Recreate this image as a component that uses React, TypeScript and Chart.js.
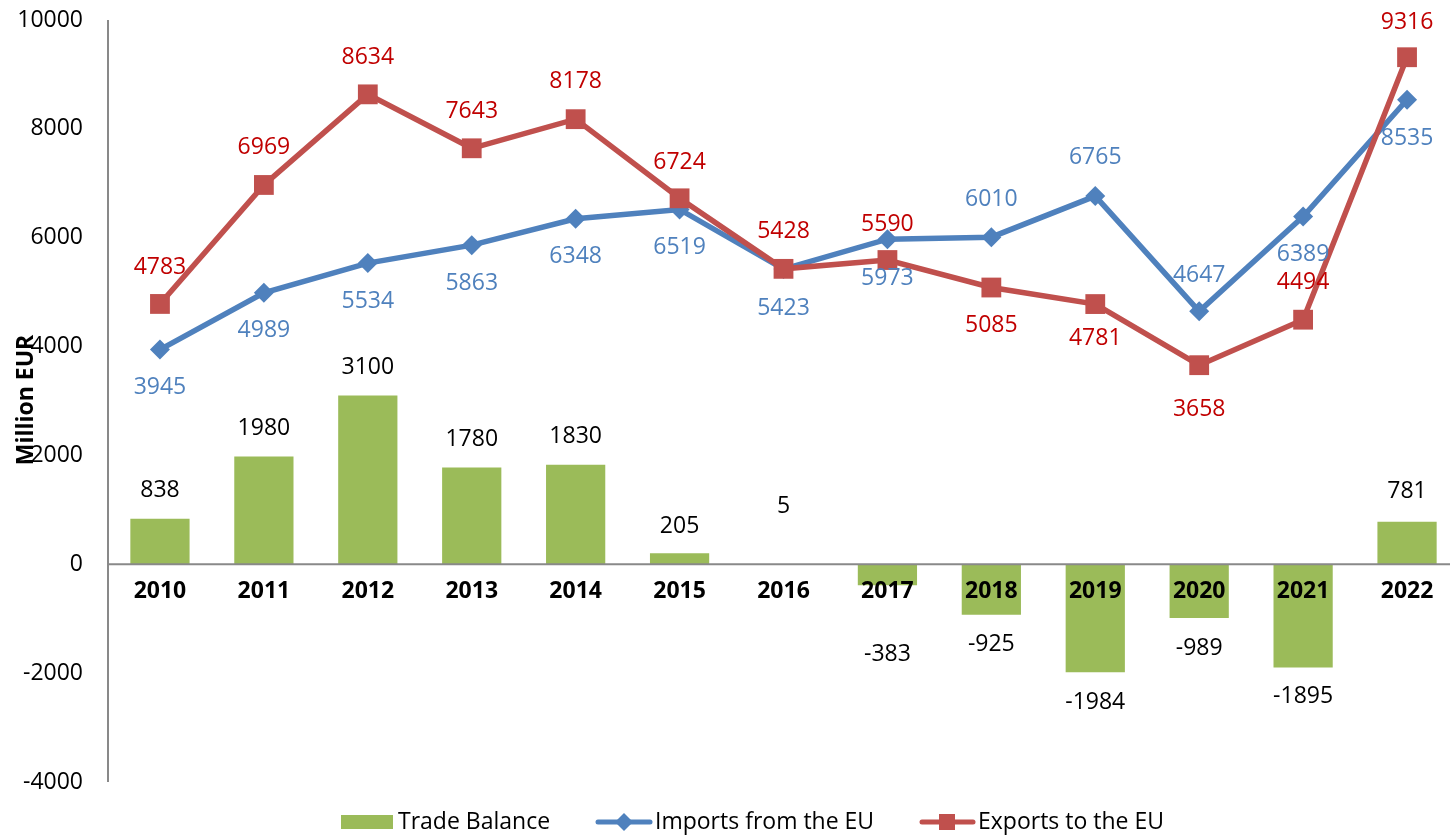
import React, { useEffect, useRef } from "react";
import { Chart, registerables } from "chart.js";

Chart.register(...registerables);

// ---- data ----
const years = ["2010", "2011", "2012", "2013", "2014", "2015", "2016", "2017", "2018", "2019", "2020", "2021", "2022"];
const tradeBalance = [838, 1980, 3100, 1780, 1830, 205, 5, -383, -925, -1984, -989, -1895, 781];
const importsFromEU = [3945, 4989, 5534, 5863, 6348, 6519, 5423, 5973, 6010, 6765, 4647, 6389, 8535];
const exportsToEU = [4783, 6969, 8634, 7643, 8178, 6724, 5428, 5590, 5085, 4781, 3658, 4494, 9316];
const yTicks = [-4000, -2000, 0, 2000, 4000, 6000, 8000, 10000];

// ---- label placement (style, px offsets from the mark) ----
const balanceLabelGap = [28, 28, 28, 28, 28, 27, 58, 69, 30, 30, 30, 29, 30];
const importsLabelDy = [38, 38, 38, 38, 38, 38, 39, 39, -38, -39, -36, 38, 39];
const exportsLabelDy = [-37, -38, -37, -37, -38, -36, -37, -36, 38, 34, 44, -37, -35];

const FONT = '"Open Sans", "Noto Sans", sans-serif';
const GREEN = "#9BBB59";
const BLUE = "#4F81BD";
const RED = "#C0504D";
const AXIS = "#898989";
const CANVAS_W = 1462;
const CANVAS_H = 835;

const overlayPlugin = {
  id: "overlay",
  afterDatasetsDraw(chart: any) {
    const ctx = chart.ctx as CanvasRenderingContext2D;
    const { left, right, top, bottom } = chart.chartArea;
    const xs = chart.scales.x;
    const ys = chart.scales.y;
    const y0 = ys.getPixelForValue(0);
    ctx.save();
    // axes
    ctx.strokeStyle = AXIS;
    ctx.lineWidth = 2;
    ctx.beginPath();
    ctx.moveTo(left, top);
    ctx.lineTo(left, bottom);
    ctx.moveTo(left, y0);
    ctx.lineTo(right, y0);
    ctx.stroke();

    ctx.textAlign = "center";
    ctx.textBaseline = "middle";

    // category labels at zero line
    ctx.font = `bold 23px ${FONT}`;
    ctx.fillStyle = "#000";
    years.forEach((yr, i) => {
      ctx.fillText(yr, xs.getPixelForValue(i), y0 + 27);
    });

    // value labels
    ctx.font = `23px ${FONT}`;
    const barMeta = chart.getDatasetMeta(0);
    tradeBalance.forEach((v, i) => {
      const el = barMeta.data[i];
      const yy = v >= 0 ? el.y - balanceLabelGap[i] : el.y + balanceLabelGap[i];
      ctx.fillStyle = "#000";
      ctx.fillText(String(v), el.x, yy);
    });
    const impMeta = chart.getDatasetMeta(1);
    importsFromEU.forEach((v, i) => {
      const el = impMeta.data[i];
      ctx.fillStyle = BLUE;
      ctx.fillText(String(v), el.x, el.y + importsLabelDy[i]);
    });
    const expMeta = chart.getDatasetMeta(2);
    exportsToEU.forEach((v, i) => {
      const el = expMeta.data[i];
      ctx.fillStyle = "#C00000";
      ctx.fillText(String(v), el.x, el.y + exportsLabelDy[i]);
    });
    ctx.restore();
  },
  afterDraw(chart: any) {
    const ctx = chart.ctx as CanvasRenderingContext2D;
    ctx.save();
    // y axis title
    ctx.translate(26, 400);
    ctx.rotate(-Math.PI / 2);
    ctx.font = `bold 23px ${FONT}`;
    ctx.fillStyle = "#000";
    ctx.textAlign = "center";
    ctx.textBaseline = "middle";
    ctx.fillText("Million EUR", 0, 0);
    ctx.restore();

    // legend
    const ly = 822;
    ctx.save();
    ctx.font = `23px ${FONT}`;
    ctx.textAlign = "left";
    ctx.textBaseline = "middle";
    ctx.fillStyle = GREEN;
    ctx.fillRect(341, ly - 7, 52, 14);
    ctx.fillStyle = "#000";
    ctx.fillText("Trade Balance", 398, ly);

    ctx.strokeStyle = BLUE;
    ctx.lineWidth = 5;
    ctx.lineCap = "round";
    ctx.beginPath();
    ctx.moveTo(598, ly);
    ctx.lineTo(650, ly);
    ctx.stroke();
    ctx.fillStyle = BLUE;
    ctx.beginPath();
    ctx.moveTo(624 - 9, ly);
    ctx.lineTo(624, ly - 9);
    ctx.lineTo(624 + 9, ly);
    ctx.lineTo(624, ly + 9);
    ctx.closePath();
    ctx.fill();
    ctx.fillStyle = "#000";
    ctx.fillText("Imports from the EU", 655, ly);

    ctx.strokeStyle = RED;
    ctx.beginPath();
    ctx.moveTo(922, ly);
    ctx.lineTo(973, ly);
    ctx.stroke();
    ctx.fillStyle = RED;
    ctx.fillRect(947 - 8, ly - 8, 16, 16);
    ctx.fillStyle = "#000";
    ctx.fillText("Exports to the EU", 978, ly);
    ctx.restore();
  },
};

export default function App() {
  const ref = useRef<HTMLCanvasElement | null>(null);
  useEffect(() => {
    document.documentElement.style.overflow = "hidden";
    document.body.style.overflow = "hidden";
    const canvas = ref.current;
    if (!canvas) return;
    const chart = new Chart(canvas, {
      type: "bar",
      data: {
        labels: years,
        datasets: [
          {
            type: "bar",
            label: "Trade Balance",
            data: tradeBalance,
            backgroundColor: GREEN,
            borderWidth: 0,
            categoryPercentage: 1,
            barPercentage: 0.57,
            order: 2,
          } as any,
          {
            type: "line",
            label: "Imports from the EU",
            data: importsFromEU,
            borderColor: BLUE,
            backgroundColor: BLUE,
            borderWidth: 5.5,
            tension: 0,
            pointStyle: "rectRot",
            pointRadius: 10,
            pointBorderWidth: 0,
            pointBackgroundColor: BLUE,
            clip: false,
            order: 1,
          } as any,
          {
            type: "line",
            label: "Exports to the EU",
            data: exportsToEU,
            borderColor: RED,
            backgroundColor: RED,
            borderWidth: 5.5,
            tension: 0,
            pointStyle: "rect",
            pointRadius: 14,
            pointBorderWidth: 0,
            pointBackgroundColor: RED,
            clip: false,
            order: 0,
          } as any,
        ],
      },
      options: {
        animation: false,
        responsive: false,
        layout: { autoPadding: false, padding: { top: 20, bottom: 53, left: 0, right: 3 } },
        plugins: {
          legend: { display: false },
          tooltip: { enabled: false },
        },
        scales: {
          x: {
            display: false,
            offset: true,
            grid: { display: false },
          },
          y: {
            min: -4000,
            max: 10000,
            grid: { display: false, drawTicks: false },
            border: { display: false },
            afterFit: (scale: any) => {
              scale.width = 108;
              scale.paddingTop = 0;
              scale.paddingBottom = 0;
            },
            afterBuildTicks: (scale: any) => {
              scale.ticks = yTicks.map((v) => ({ value: v }));
            },
            ticks: {
              padding: 25,
              color: "#000",
              font: { family: FONT, size: 23 },
              callback: (v: any) => String(v),
            },
          },
        },
      },
      plugins: [overlayPlugin],
    } as any);
    return () => chart.destroy();
  }, []);
  return (
    <div style={{ position: "fixed", left: 0, top: 0, width: CANVAS_W, height: CANVAS_H, background: "#fff" }}>
      <canvas ref={ref} width={CANVAS_W} height={CANVAS_H} style={{ width: CANVAS_W, height: CANVAS_H, display: "block" }} />
    </div>
  );
}
